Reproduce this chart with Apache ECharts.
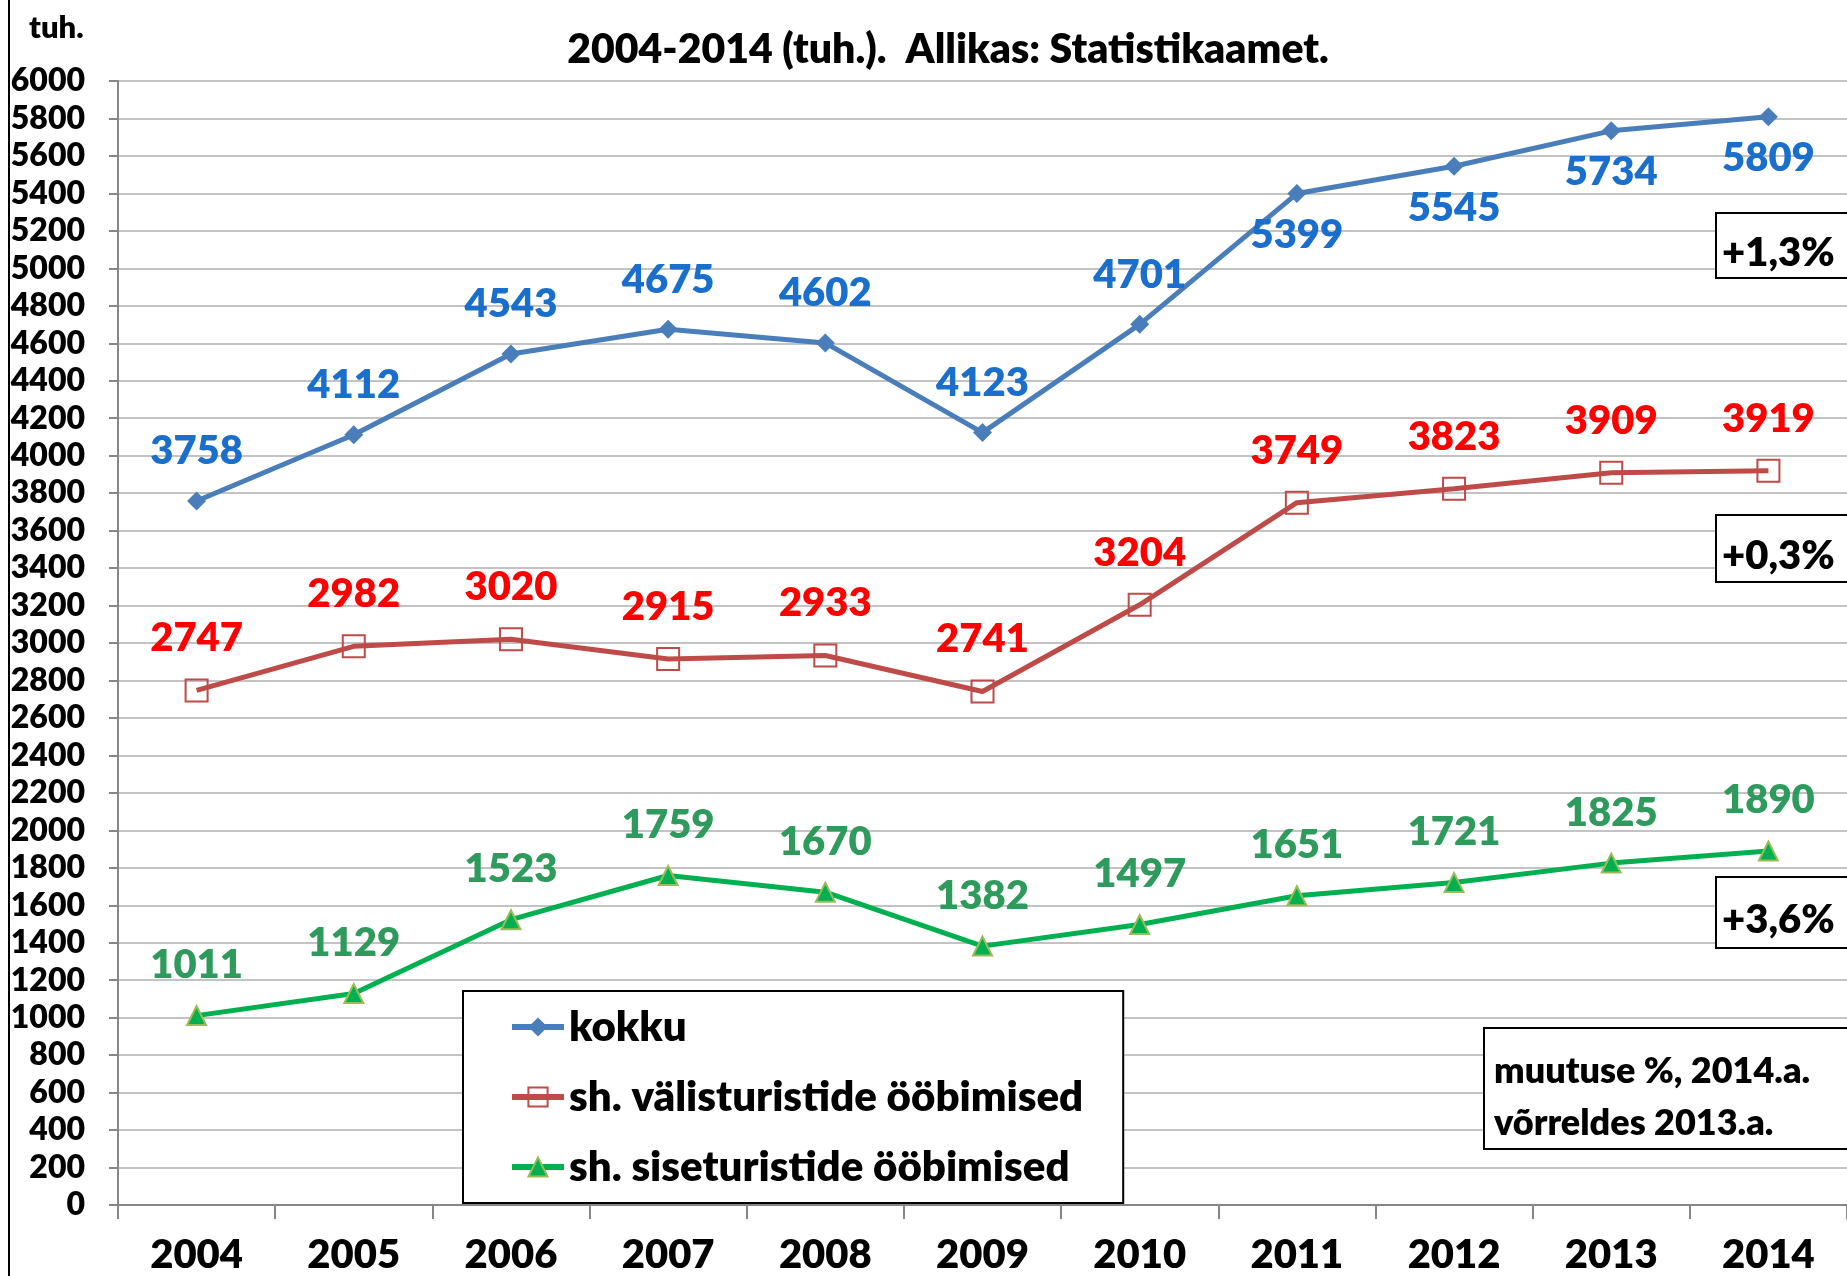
<!DOCTYPE html>
<html style="height: 100%">
<head>
    <meta charset="utf-8">
</head>
<body style="height: 100%; margin: 0">
    <div id="container" style="width: 1847px; height: 1276px;"></div>
    <script type="text/javascript" src="https://cdn.jsdelivr.net/npm/echarts@6/dist/echarts.min.js"></script>
    <script type="text/javascript">
        var years = ['2004', '2005', '2006', '2007', '2008', '2009', '2010', '2011', '2012', '2013', '2014'];
        var kokku = [3758, 4112, 4543, 4675, 4602, 4123, 4701, 5399, 5545, 5734, 5809];
        var valis = [2747, 2982, 3020, 2915, 2933, 2741, 3204, 3749, 3823, 3909, 3919];
        var sise = [1011, 1129, 1523, 1759, 1670, 1382, 1497, 1651, 1721, 1825, 1890];
        var names = ['kokku', 'sh. välisturistide ööbimised', 'sh. siseturistide ööbimised'];
        var changes = ['+1,3%', '+0,3%', '+3,6%'];

        var FONT = 'Lato, "Open Sans", sans-serif';
        var W = 800;
        var dom = document.getElementById("container");
        var myChart = echarts.init(dom);

        function pctBox(txt, y, h) {
            return {
                type: 'group',
                z: 100,
                children: [
                    { type: 'rect', z: 100, shape: { x: 1716, y: y, width: 150, height: h },
                      style: { fill: '#fff', stroke: '#000', lineWidth: 2 } },
                    { type: 'text', z: 101, x: 1722, y: y + h / 2 + 8,
                      style: { text: txt, font: W + ' 40px ' + FONT, fill: '#000', textVerticalAlign: 'middle' } }
                ]
            };
        }

        var option = {
            backgroundColor: '#fff',
            title: {
                text: '2004-2014 (tuh.).  Allikas: Statistikaamet.',
                left: 943,
                textAlign: 'center',
                top: 24,
                textStyle: { fontFamily: FONT, fontWeight: W, fontSize: 41, color: '#000' }
            },
            legend: {
                orient: 'vertical',
                left: 463,
                top: 991,
                data: names,
                itemWidth: 52,
                itemHeight: 24,
                itemGap: 22,
                padding: [12, 40, 12, 46],
                borderColor: '#000',
                borderWidth: 2,
                backgroundColor: '#fff',
                lineStyle: { width: 6 },
                textStyle: { fontFamily: FONT, fontWeight: W, fontSize: 42, color: '#000', lineHeight: 48 }
            },
            grid: { left: 118, right: 0, top: 81, bottom: 71, containLabel: false },
            xAxis: {
                type: 'category',
                data: years,
                boundaryGap: true,
                axisLine: { lineStyle: { color: '#868686', width: 2 } },
                axisTick: { show: true, interval: 0, length: 14, lineStyle: { color: '#868686', width: 2 } },
                axisLabel: { margin: 30, fontFamily: FONT, fontWeight: W, fontSize: 40, color: '#000' }
            },
            yAxis: {
                type: 'value',
                min: 0,
                max: 6000,
                interval: 200,
                axisLine: { show: true, lineStyle: { color: '#868686', width: 2 } },
                axisTick: { show: true, length: 9, lineStyle: { color: '#868686', width: 2 } },
                splitLine: { lineStyle: { color: '#C3C3C3', width: 2 } },
                axisLabel: {
                    margin: 33, fontFamily: FONT, fontWeight: W, fontSize: 32, color: '#000',
                    formatter: function (v) { return String(v); }
                }
            },
            graphic: [
                { type: 'line', z: 100, shape: { x1: 9, y1: 0, x2: 9, y2: 1276 }, style: { stroke: '#000', lineWidth: 2 } },
                { type: 'text', z: 100, x: 29, y: 28,
                  style: { text: 'tuh.', font: W + ' 31px ' + FONT, fill: '#000', textVerticalAlign: 'middle' } },
                pctBox(changes[0], 213, 65),
                pctBox(changes[1], 515, 67),
                pctBox(changes[2], 877, 71),
                {
                    type: 'group',
                    z: 100,
                    children: [
                        { type: 'rect', z: 100, shape: { x: 1484, y: 1028, width: 380, height: 121 },
                          style: { fill: '#fff', stroke: '#000', lineWidth: 2 } },
                        { type: 'text', z: 101, x: 1494, y: 1071,
                          style: { text: 'muutuse %, 2014.a.', font: W + ' 36px ' + FONT, fill: '#000', textVerticalAlign: 'middle' } },
                        { type: 'text', z: 101, x: 1494, y: 1123,
                          style: { text: 'võrreldes 2013.a.', font: W + ' 36px ' + FONT, fill: '#000', textVerticalAlign: 'middle' } }
                    ]
                }
            ],
            series: [
                {
                    name: names[0],
                    type: 'line',
                    data: kokku.map(function (v, i) {
                        return { value: v, label: { position: i >= 7 ? 'bottom' : 'top', distance: i >= 7 ? 12 : 20 } };
                    }),
                    symbol: 'diamond',
                    symbolSize: 19,
                    lineStyle: { color: '#4A7EBB', width: 5 },
                    itemStyle: { color: '#4A7EBB' },
                    label: { show: true, fontFamily: FONT, fontWeight: W, fontSize: 40, color: '#1A6FCC' },
                    z: 3
                },
                {
                    name: names[1],
                    type: 'line',
                    data: valis,
                    symbol: 'rect',
                    symbolSize: 22,
                    lineStyle: { color: '#BE4B48', width: 5 },
                    itemStyle: { color: 'rgba(255,255,255,0)', borderColor: '#BE4B48', borderWidth: 2 },
                    label: { show: true, position: 'top', distance: 20, fontFamily: FONT, fontWeight: W, fontSize: 40, color: '#FF0000' },
                    z: 3
                },
                {
                    name: names[2],
                    type: 'line',
                    data: sise,
                    symbol: 'triangle',
                    symbolSize: 19,
                    lineStyle: { color: '#00B050', width: 5 },
                    itemStyle: { color: '#00B050', borderColor: '#9BBB59', borderWidth: 2 },
                    label: { show: true, position: 'top', distance: 20, fontFamily: FONT, fontWeight: W, fontSize: 40, color: '#2E9A5C' },
                    z: 3
                }
            ]
        };
        if (option && typeof option === "object") {
            myChart.setOption(option, true);
        }
    </script>
</body>
</html>
